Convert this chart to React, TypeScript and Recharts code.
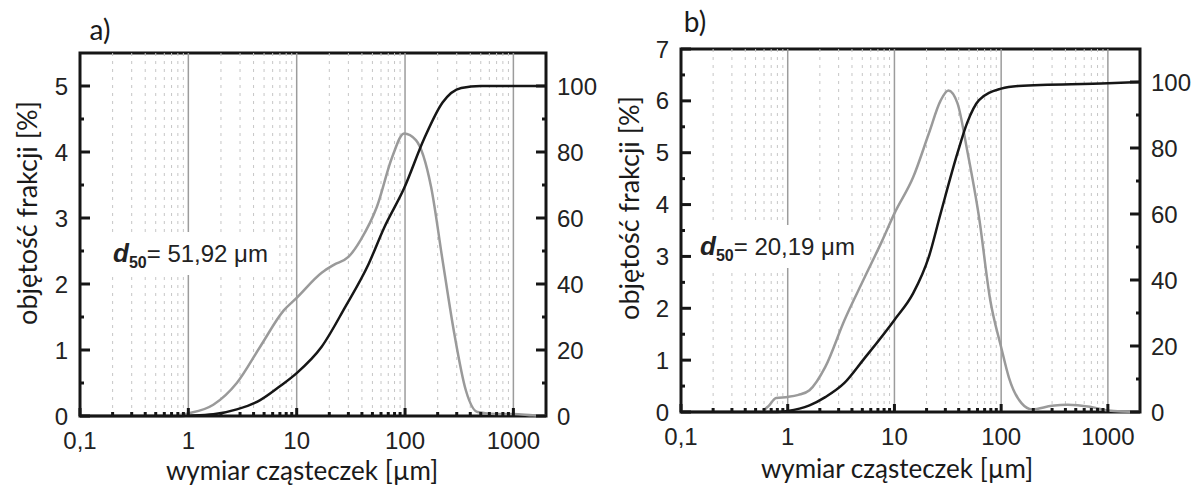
import { LineChart, Line, XAxis, YAxis, ReferenceLine, ReferenceArea } from "recharts";

// particle size ticks (log axis)
const decades = [0.1, 1, 10, 100, 1000];
const minorX = [
  0.2, 0.3, 0.4, 0.5, 0.6, 0.7, 0.8, 0.9,
  2, 3, 4, 5, 6, 7, 8, 9,
  20, 30, 40, 50, 60, 70, 80, 90,
  200, 300, 400, 500, 600, 700, 800, 900,
];
const rightTicks = [0, 10, 20, 30, 40, 50, 60, 70, 80, 90, 100];
const leftTicksA = [0, 0.5, 1, 1.5, 2, 2.5, 3, 3.5, 4, 4.5, 5];
const leftTicksB = [0, 0.5, 1, 1.5, 2, 2.5, 3, 3.5, 4, 4.5, 5, 5.5, 6, 6.5, 7];

// a) frequency (grey) and cumulative (black)
const freqSizeA = [0.1, 0.5, 0.8, 1, 1.7, 2.8, 4.6, 7.6, 10, 17, 22, 30, 39, 55, 76, 98, 126, 174, 222, 284, 364, 466, 700, 1000, 1500, 2000];
const freqA = [0, 0, 0.01, 0.04, 0.17, 0.5, 1.05, 1.6, 1.79, 2.17, 2.29, 2.41, 2.67, 3.17, 3.92, 4.28, 4.18, 3.47, 2.36, 1.26, 0.39, 0.06, 0.03, 0.03, 0.01, 0];
const cumSizeA = [0.1, 0.8, 1, 1.7, 2.8, 4.6, 7, 10, 17, 28, 46, 64, 98, 150, 222, 330, 500, 1000, 2000];
const cumA = [0, 0, 0.1, 0.5, 2, 4.8, 9, 13, 21, 33, 46, 57, 69, 84, 95, 99.4, 100, 100, 100];

// b)
const freqSizeB = [0.1, 0.55, 0.65, 0.78, 1, 1.26, 1.6, 2.25, 3.4, 5.1, 7.7, 10, 15, 21, 27, 32, 39, 48, 62, 79, 100, 118, 155, 195, 300, 420, 680, 1000, 2000];
const freqB = [0, 0, 0.1, 0.27, 0.29, 0.33, 0.42, 0.87, 1.77, 2.54, 3.31, 3.83, 4.53, 5.37, 6.0, 6.2, 5.95, 5.05, 3.76, 2.16, 1.25, 0.67, 0.17, 0.05, 0.12, 0.14, 0.1, 0.03, 0];
const cumSizeB = [0.1, 0.8, 1, 1.6, 2.25, 3.4, 5.1, 10, 15, 21, 27, 39, 48, 62, 100, 145, 1000, 2000];
const cumB = [0, 0, 0.3, 2, 4.5, 8.8, 15.8, 27.9, 36, 47, 60, 78.5, 87.6, 94.5, 98, 98.8, 99.6, 100];

const zip = (xs: number[], vs: number[]) => xs.map((x, i) => ({ x, v: vs[i] }));

const TICK_FONT = "'Liberation Sans', Arial, sans-serif";
const TITLE_FONT = "Lato, 'Open Sans', sans-serif";
const INK = "#161616";
const LM = 12;
const RM = 11;

const LeftTick = (props: any) => {
  const { x, y, payload } = props;
  const v = payload.value;
  const major = Number.isInteger(v);
  const edge = x + LM;
  return (
    <g>
      <line x1={edge} x2={edge + (major ? 10 : 4)} y1={y} y2={y} stroke={INK} strokeWidth={3} />
      {major && (
        <text x={x} y={y + 8.5} textAnchor="end" fontFamily={TICK_FONT} fontSize={24} fill="#222">
          {v}
        </text>
      )}
    </g>
  );
};

const RightTick = (props: any) => {
  const { x, y, payload } = props;
  const v = payload.value;
  const major = v % 20 === 0;
  const edge = x - RM;
  return (
    <g>
      <line x1={edge} x2={edge - (major ? 10 : 4)} y1={y} y2={y} stroke={INK} strokeWidth={3} />
      {major && (
        <text x={x} y={y + 8.5} textAnchor="start" fontFamily={TICK_FONT} fontSize={24} fill="#222">
          {v}
        </text>
      )}
    </g>
  );
};

const BottomTick = (props: any) => {
  const { x, y, payload } = props;
  const v = payload.value;
  const major = decades.includes(v);
  return (
    <g>
      <line x1={x} x2={x} y1={y} y2={y - (major ? 8 : 4)} stroke={INK} strokeWidth={3} />
      {major && (
        <text x={x} y={y + 33} textAnchor="middle" fontFamily={TICK_FONT} fontSize={24} fill="#222">
          {String(v).replace(".", ",")}
        </text>
      )}
    </g>
  );
};

type PanelProps = {
  left: number;
  width: number;
  margin: { top: number; right: number; bottom: number; left: number };
  yMax: number;
  leftTicks: number[];
  freq: { x: number; v: number }[];
  cum: { x: number; v: number }[];
};

const Panel = ({ left, width, margin, yMax, leftTicks, freq, cum }: PanelProps) => (
  <div style={{ position: "absolute", left, top: 0 }}>
    <LineChart width={width} height={486} margin={margin}>
      <XAxis
        dataKey="x"
        type="number"
        scale="log"
        domain={[0.1, 2000]}
        allowDataOverflow
        ticks={[...decades, ...minorX]}
        interval={0}
        height={60}
        tickSize={0}
        tickMargin={0}
        tickLine={false}
        axisLine={false}
        tick={BottomTick}
      />
      <YAxis
        yAxisId="left"
        orientation="left"
        domain={[0, yMax]}
        ticks={leftTicks}
        interval={0}
        width={40}
        tickSize={0}
        tickMargin={LM}
        tickLine={false}
        axisLine={false}
        tick={LeftTick}
      />
      <YAxis
        yAxisId="right"
        orientation="right"
        domain={[0, 110]}
        ticks={rightTicks}
        interval={0}
        width={45}
        tickSize={0}
        tickMargin={RM}
        tickLine={false}
        axisLine={false}
        tick={RightTick}
      />
      {minorX.map((g) => (
        <ReferenceLine key={"m" + g} x={g} yAxisId="left" stroke="#c6c6c6" strokeWidth={1} strokeDasharray="3 5" />
      ))}
      {decades.slice(1).map((g) => (
        <ReferenceLine key={"d" + g} x={g} yAxisId="left" stroke="#9c9c9c" strokeWidth={1.5} />
      ))}
      <Line yAxisId="left" data={freq} dataKey="v" type="monotone" stroke="#9a9a9a" strokeWidth={2.5} dot={false} isAnimationActive={false} />
      <Line yAxisId="right" data={cum} dataKey="v" type="monotone" stroke={INK} strokeWidth={2.5} dot={false} isAnimationActive={false} />
      <ReferenceArea x1={0.1} x2={2000} y1={0} y2={yMax} yAxisId="left" fill="none" stroke={INK} strokeWidth={3} />
    </LineChart>
  </div>
);

const Note = ({ left, top, value }: { left: number; top: number; value: string }) => (
  <div
    style={{
      position: "absolute",
      left,
      top,
      width: 170,
      height: 43,
      background: "#fff",
      fontFamily: TICK_FONT,
      fontSize: 24,
      color: "#222",
      lineHeight: "43px",
      paddingLeft: 5,
      boxSizing: "border-box",
      whiteSpace: "nowrap",
    }}
  >
    <b style={{ fontSize: 26 }}><i>d</i></b>
    <b style={{ fontSize: 16, position: "relative", top: 6 }}>50</b>= {value} μm
  </div>
);

const Title = ({ x, y, text, rotate, size = 26 }: { x: number; y: number; text: string; rotate?: boolean; size?: number }) => (
  <div
    style={{
      position: "absolute",
      left: x,
      top: y,
      transform: `translate(-50%, -50%)${rotate ? " rotate(-90deg)" : ""}`,
      fontFamily: TITLE_FONT,
      fontSize: size,
      color: "#1a1a1a",
      whiteSpace: "nowrap",
      lineHeight: 1,
    }}
  >
    {text}
  </div>
);

export default function App() {
  return (
    <div style={{ position: "absolute", left: 0, top: 0, width: 1195, height: 486, background: "#fff" }}>
      <Panel
        left={0}
        width={597}
        margin={{ top: 53, right: 6, bottom: 10, left: 40 }}
        yMax={5.5}
        leftTicks={leftTicksA}
        freq={zip(freqSizeA, freqA)}
        cum={zip(cumSizeA, cumA)}
      />
      <Panel
        left={597}
        width={598}
        margin={{ top: 49, right: 10, bottom: 14, left: 44 }}
        yMax={7}
        leftTicks={leftTicksB}
        freq={zip(freqSizeB, freqB)}
        cum={zip(cumSizeB, cumB)}
      />
      <Note left={108} top={232} value="51,92" />
      <Note left={695} top={225} value="20,19" />
      <Title x={100} y={29} text="a)" size={28} />
      <Title x={695} y={21} text="b)" size={28} />
      <Title x={26} y={213} text="objętość frakcji [%]" rotate size={27} />
      <Title x={628} y={208} text="objętość frakcji [%]" rotate size={27} />
      <Title x={302} y={470} text="wymiar cząsteczek [µm]" />
      <Title x={897} y={468} text="wymiar cząsteczek [µm]" />
    </div>
  );
}
